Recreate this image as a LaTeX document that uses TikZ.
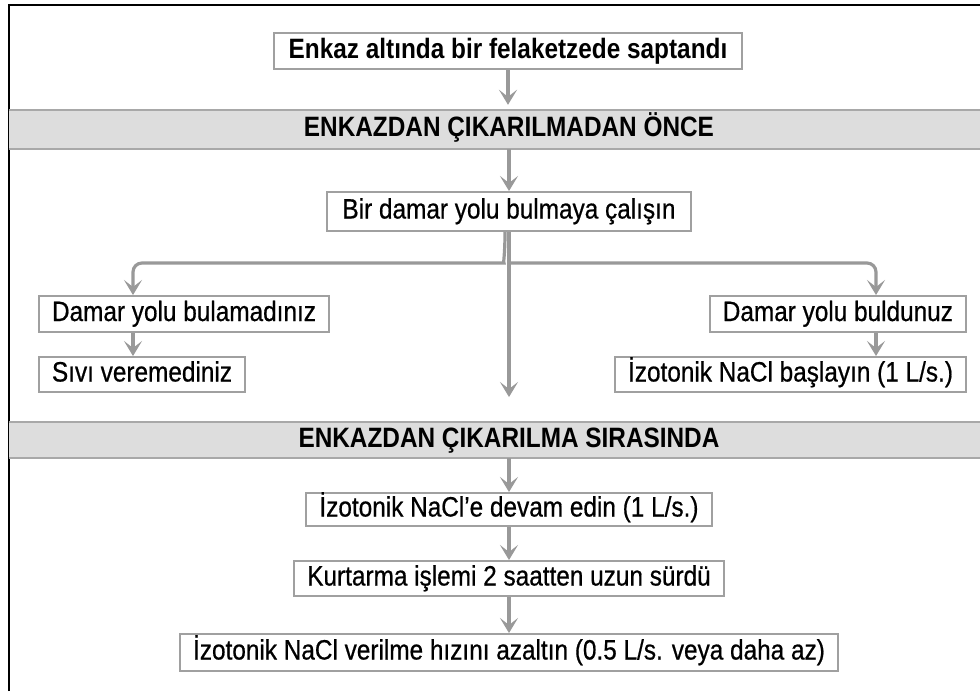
\documentclass[tikz,border=0pt]{standalone}
\usepackage{fontspec}
\setmainfont{Liberation Sans}[FakeStretch=0.87]
\newfontfamily\regfont{Liberation Sans}[FakeStretch=0.87, FakeBold=0.6]
\usetikzlibrary{arrows.meta}
\definecolor{boxgray}{HTML}{A0A0A0}
\definecolor{arrgray}{HTML}{999999}
\definecolor{bandfill}{HTML}{DDDDDD}
\definecolor{bandline}{HTML}{A8A8A8}
\begin{document}
\begin{tikzpicture}[x=1pt,y=-1pt,
  box/.style={draw=boxgray, line width=2pt, fill=white, inner xsep=13pt, inner ysep=0pt,
    text height=19.5pt, text depth=5.5pt, font=\regfont\fontsize{28}{32}\selectfont},
  boldbox/.style={box, font=\fontsize{28}{32}\selectfont\bfseries},
  band/.style={fill=bandfill, draw=none, minimum width=971pt, inner sep=0pt},
  htext/.style={font=\fontsize{28}{32}\selectfont\bfseries, text height=19.5pt, text depth=5.5pt, inner sep=0pt},
  conn/.style={draw=arrgray, line width=3.2pt,
    -{Stealth[length=15pt, width=18pt, inset=7pt]}}
]
\useasboundingbox (0,0) rectangle (980,691);
\fill[white] (0,0) rectangle (980,691);
% frame
\draw[line width=2.5pt, black] (9,691) -- (9,5) -- (980,5);

% nodes
\node[boldbox, minimum height=36pt, inner xsep=15pt] (top) at (508,51) {Enkaz altında bir felaketzede saptandı};
\node[band, minimum height=39pt] (band1) at (494.5,129.5) {};
\node[htext] (h1) at (509,129.5) {ENKAZDAN ÇIKARILMADAN ÖNCE};
\node[box, minimum height=39pt, inner xsep=15pt] (b2) at (509,211.5) {Bir damar yolu bulmaya çalışın};
\node[box, minimum height=36pt, anchor=west] (l1) at (38,314) {Damar yolu bulamadınız};
\node[box, minimum height=35pt, anchor=west] (l2) at (38,374.5) {Sıvı veremediniz};
\node[box, minimum height=36pt, anchor=east] (r1) at (967,314) {Damar yolu buldunuz};
\node[box, minimum height=35pt, anchor=east] (r2) at (967,374.5) {İzotonik NaCl başlayın (1 L/s.)};
\node[band, minimum height=36pt] (band2) at (494.5,440) {};
\node[htext] (h2) at (509,440) {ENKAZDAN ÇIKARILMA SIRASINDA};
\node[box, minimum height=33pt] (m1) at (509,509.5) {İzotonik NaCl’e devam edin (1 L/s.)};
\node[box, minimum height=35pt] (m2) at (509,578.5) {Kurtarma işlemi 2 saatten uzun sürdü};
\node[box, minimum height=37pt] (m3) at (509,652.5) {İzotonik NaCl verilme hızını azaltın (0.5 L/s. veya daha az)};

% band border lines
\draw[bandline, line width=2.5pt] (band1.north west) -- (band1.north east);
\draw[bandline, line width=2.5pt] (band1.south west) -- (band1.south east);
\draw[bandline, line width=2.5pt] (band2.north west) -- (band2.north east);
\draw[bandline, line width=2.5pt] (band2.south west) -- (band2.south east);

% coordinates
\coordinate (lk) at (133,263);
\coordinate (rk) at (876,263);
\coordinate (jn) at (509,263);
\coordinate (mend) at (509,397);

% connectors
\draw[conn] (top.south) -- ([yshift=5pt]band1.north -| top.south);
\draw[conn] (band1.south -| b2.north) -- (b2.north);
\draw[conn] (b2.south) -- (mend);
\draw[conn, rounded corners=9pt] ([xshift=-4pt]b2.south) .. controls +(0,24) and +(8,0) .. ([xshift=-14pt]jn) -- (lk) -- (lk |- l1.north);
\draw[conn, rounded corners=9pt] (jn) -- (rk) -- (rk |- r1.north);
\draw[conn] (lk |- l1.south) -- (lk |- l2.north);
\draw[conn] (rk |- r1.south) -- (rk |- r2.north);
\draw[conn] (band2.south -| m1.north) -- (m1.north);
\draw[conn] (m1.south) -- (m2.north);
\draw[conn] (m2.south) -- (m3.north);
\end{tikzpicture}
\end{document}
